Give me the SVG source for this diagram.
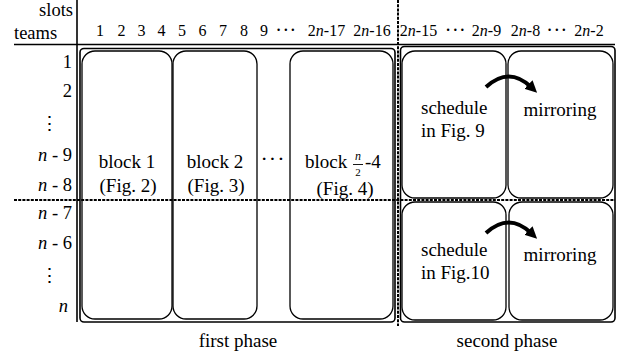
<svg xmlns="http://www.w3.org/2000/svg" width="623" height="360" viewBox="0 0 623 360" font-family="'Liberation Serif', 'DejaVu Serif', serif">
<defs>
<style>
text{font-family:'Liberation Serif','DejaVu Serif',serif;fill:#000}
.h{font-size:16px;text-anchor:middle}
.r{font-size:18.5px;text-anchor:end}
.t{font-size:19px;text-anchor:middle}
.i{font-style:italic}
.blk{fill:none;stroke:#000;stroke-width:1.3}
.frm{fill:none;stroke:#000;stroke-width:1.6}
.ln{stroke:#000;stroke-width:1.6;fill:none}
.dash{stroke:#000;stroke-width:2;stroke-dasharray:3 1.2;fill:none}
.arr{stroke:#000;stroke-width:4;fill:none;marker-end:url(#ah)}
</style>
<marker id="ah" viewBox="0 0 10 10" refX="3" refY="5" markerWidth="3" markerHeight="3" orient="auto" markerUnits="strokeWidth">
<path d="M0,0 L10,5 L0,10 z" fill="#000"/>
</marker>
</defs>
<rect width="623" height="360" fill="#fff"/>

<g id="header">
<text x="73" y="16" class="r">slots</text>
<text x="14" y="39" style="font-size:18.5px">teams</text>
<text x="100" y="36" class="h">1</text>
<text x="121.5" y="36" class="h">2</text>
<text x="141.5" y="36" class="h">3</text>
<text x="161.5" y="36" class="h">4</text>
<text x="182" y="36" class="h">5</text>
<text x="202.5" y="36" class="h">6</text>
<text x="223" y="36" class="h">7</text>
<text x="244" y="36" class="h">8</text>
<text x="264" y="36" class="h">9</text>
<text x="286" y="37" class="h" style="font-size:20px;letter-spacing:0.5px">···</text>
<text x="326.5" y="36" class="h">2<tspan class="i">n</tspan>-17</text>
<text x="372" y="36" class="h">2<tspan class="i">n</tspan>-16</text>
<text x="418.5" y="36" class="h">2<tspan class="i">n</tspan>-15</text>
<text x="455.5" y="37" class="h" style="font-size:20px;letter-spacing:0.5px">···</text>
<text x="486.5" y="36" class="h">2<tspan class="i">n</tspan>-9</text>
<text x="525.5" y="36" class="h">2<tspan class="i">n</tspan>-8</text>
<text x="557" y="37" class="h" style="font-size:20px;letter-spacing:0.5px">···</text>
<text x="589" y="36" class="h">2<tspan class="i">n</tspan>-2</text>
</g>

<g id="rows">
<text x="72" y="68" class="r">1</text>
<text x="72" y="97" class="r">2</text>
<text x="59" y="130" class="r">⋮</text>
<text x="72" y="161" class="r"><tspan class="i">n</tspan> - 9</text>
<text x="72" y="191" class="r"><tspan class="i">n</tspan> - 8</text>
<text x="72" y="219" class="r"><tspan class="i">n</tspan> - 7</text>
<text x="72" y="249" class="r"><tspan class="i">n</tspan> - 6</text>
<text x="59" y="282" class="r">⋮</text>
<text x="68" y="312" class="r"><tspan class="i">n</tspan></text>
</g>

<g id="grid">
<line x1="77" y1="0" x2="77" y2="322" class="ln"/>
<line x1="14" y1="44.5" x2="615" y2="44.5" class="ln"/>
<rect x="80" y="48.5" width="315" height="273.5" rx="4" class="frm"/>
<rect x="400.5" y="46.5" width="214.5" height="275.5" rx="4" class="frm"/>
<line x1="14" y1="200" x2="615" y2="200" class="dash"/>
<line x1="398" y1="0" x2="398" y2="326" class="dash"/>
</g>

<g id="block1">
<rect x="82" y="51" width="90" height="268" rx="13" class="blk"/>
<text x="127" y="168" class="t">block 1</text>
<text x="128" y="192" class="t">(Fig. 2)</text>
</g>
<g id="block2">
<rect x="173" y="51" width="84" height="268" rx="13" class="blk"/>
<text x="215" y="168" class="t">block 2</text>
<text x="216" y="192" class="t">(Fig. 3)</text>
</g>
<g id="dots">
<text x="273" y="166" class="t" style="font-size:22px;letter-spacing:1px">···</text>
</g>
<g id="block3">
<rect x="290" y="51" width="103" height="268" rx="13" class="blk"/>
<text x="305" y="168" style="font-size:19px">block</text>
<text x="358" y="160" class="i" style="font-size:12px;text-anchor:middle">n</text>
<line x1="353" y1="164.5" x2="363" y2="164.5" stroke="#000" stroke-width="0.9"/>
<text x="358" y="175.5" style="font-size:11px;text-anchor:middle">2</text>
<text x="365" y="168" style="font-size:19px">-4</text>
<text x="345" y="195" class="t">(Fig. 4)</text>
</g>

<g id="sched9">
<rect x="402" y="51" width="104" height="147" rx="13" class="blk"/>
<text x="421" y="114" style="font-size:19px">schedule</text>
<text x="421" y="137" style="font-size:19px">in Fig. 9</text>
</g>
<g id="mirror1">
<rect x="508" y="51" width="105" height="147" rx="13" class="blk"/>
<text x="560" y="116" class="t">mirroring</text>
</g>
<g id="sched10">
<rect x="402" y="202" width="104" height="118" rx="13" class="blk"/>
<text x="421" y="256" style="font-size:19px">schedule</text>
<text x="421" y="279" style="font-size:19px">in Fig.10</text>
</g>
<g id="mirror2">
<rect x="509" y="202" width="104" height="118" rx="13" class="blk"/>
<text x="560" y="261" class="t">mirroring</text>
</g>

<g id="connectors">
<path d="M486,87 Q509,66 531,87" class="arr"/>
<path d="M486,233 Q509,212 531,233" class="arr"/>
</g>

<g id="labels">
<text x="238" y="347" class="t">first phase</text>
<text x="507" y="347" class="t">second phase</text>
</g>
</svg>
